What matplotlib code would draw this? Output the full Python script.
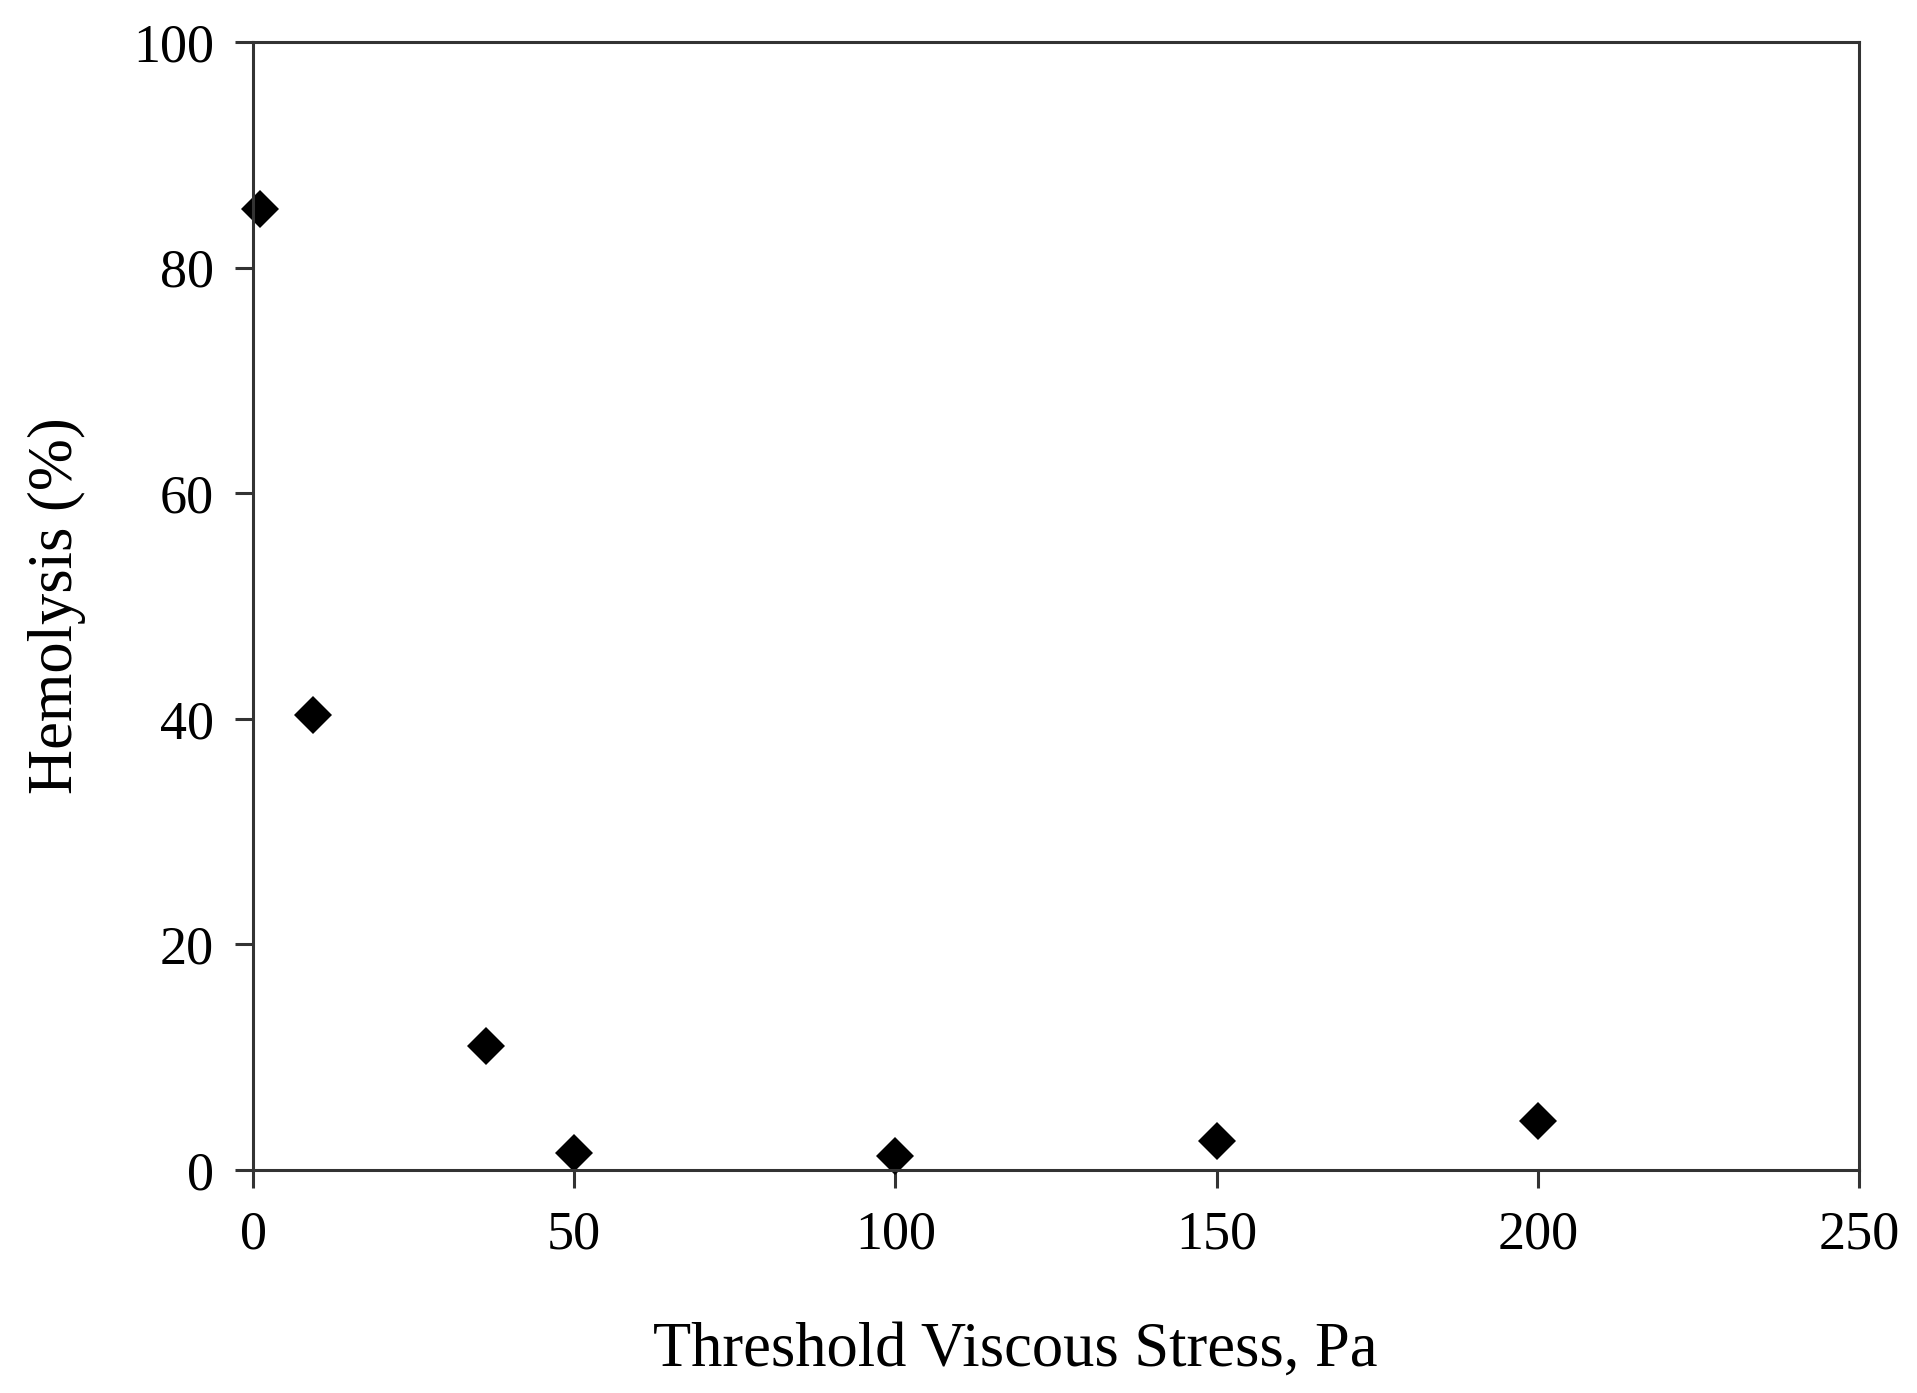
import matplotlib
matplotlib.use("Agg")
from matplotlib import pyplot as plt

# threshold viscous stress (Pa) vs hemolysis (%)
stress = [1.1, 9.3, 36.3, 50, 100, 150, 200]
hemolysis = [85.2, 40.3, 11.0, 1.5, 1.2, 2.6, 4.3]

x_ticks = [0, 50, 100, 150, 200, 250]
y_ticks = [0, 20, 40, 60, 80, 100]

plt.rcParams['font.family'] = ['Liberation Serif', 'DejaVu Serif']

fig = plt.figure(figsize=(19.17, 13.93), dpi=100)
ax = fig.add_axes([253 / 1917, 1 - 1170 / 1393, (1859 - 253) / 1917, (1170 - 42) / 1393])

ax.plot(stress, hemolysis, 'D', color='black', markersize=19, markeredgewidth=0,
        clip_on=False)

ax.set_xlim(0, 250)
ax.set_ylim(0, 100)
ax.set_xticks(x_ticks)
ax.set_yticks(y_ticks)

for sp in ax.spines.values():
    sp.set_linewidth(2.2)
    sp.set_color('#333333')

ax.tick_params(direction='out', length=13, width=2.2, color='#333333',
               labelsize=39, pad=15)
ax.tick_params(axis='x', pad=16)

ax.set_xlabel('Threshold Viscous Stress, Pa', fontsize=45)
ax.xaxis.set_label_coords(0.4745, -0.134)
ax.set_ylabel('Hemolysis (%)', fontsize=45, labelpad=34)

fig.savefig('out.png', dpi=100)
